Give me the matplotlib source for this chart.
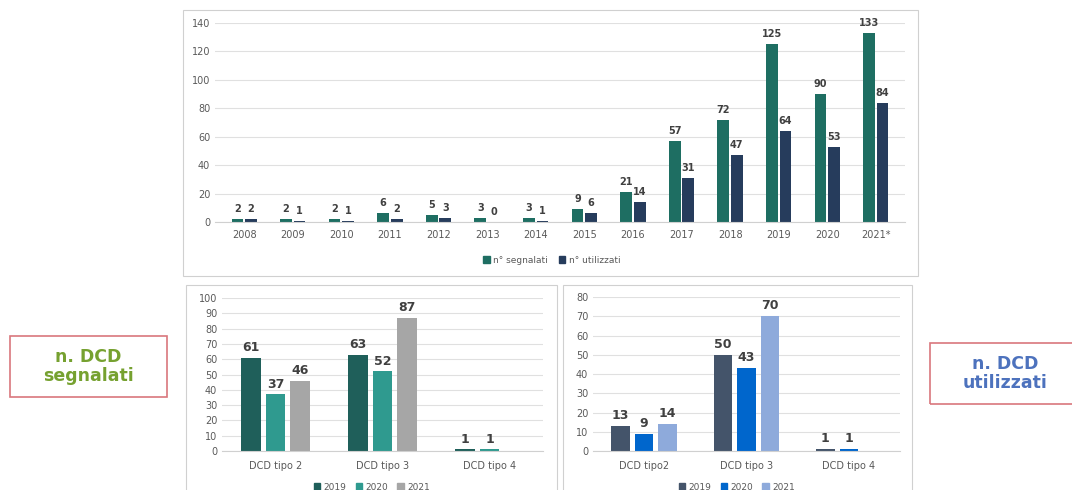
import numpy as np
import matplotlib.pyplot as plt
from matplotlib.patches import Rectangle

years = ["2008", "2009", "2010", "2011", "2012", "2013", "2014",
         "2015", "2016", "2017", "2018", "2019", "2020", "2021*"]
segnalati = [2, 2, 2, 6, 5, 3, 3, 9, 21, 57, 72, 125, 90, 133]
utilizzati = [2, 1, 1, 2, 3, 0, 1, 6, 14, 31, 47, 64, 53, 84]

tipi_segn = ["DCD tipo 2", "DCD tipo 3", "DCD tipo 4"]
segn_2019 = [61, 63, 1]
segn_2020 = [37, 52, 1]
segn_2021 = [46, 87, 0]

tipi_util = ["DCD tipo2", "DCD tipo 3", "DCD tipo 4"]
util_2019 = [13, 50, 1]
util_2020 = [9, 43, 1]
util_2021 = [14, 70, 0]

W, H = 1072, 490
fig = plt.figure(figsize=(W / 100, H / 100), dpi=100)
fig.patch.set_facecolor("white")

TICK = "#595959"
LBL = "#404040"
GRID = "#e0e0e0"


def px_axes(x0, y0, x1, y1):
    # pixel box (top-left origin) -> figure axes
    return fig.add_axes([x0 / W, 1 - y1 / H, (x1 - x0) / W, (y1 - y0) / H])


def panel(x0, y0, x1, y1, color="#d0d0d0", lw=0.8):
    fig.patches.append(Rectangle((x0 / W, 1 - y1 / H), (x1 - x0) / W, (y1 - y0) / H,
                                 transform=fig.transFigure, fill=False,
                                 edgecolor=color, linewidth=lw))


def style(ax, ymax, step):
    ax.set_ylim(0, ymax)
    ax.set_yticks(np.arange(0, ymax + 1, step))
    ax.yaxis.grid(True, color=GRID, linewidth=0.8)
    ax.set_axisbelow(True)
    for s in ["top", "right", "left"]:
        ax.spines[s].set_visible(False)
    ax.spines["bottom"].set_color("#d0d0d0")
    ax.tick_params(length=0, colors=TICK, labelsize=7)
    ax.set_facecolor("none")


def bars(ax, x, vals, width, color, fs):
    b = ax.bar(x, vals, width, color=color)
    for rect, v in zip(b, vals):
        if v == 0 and fs > 7:
            continue
        ax.text(rect.get_x() + rect.get_width() / 2, v + ax.get_ylim()[1] * 0.025,
                str(v), ha="center", va="bottom", fontsize=fs,
                fontweight="bold", color=LBL)


# top panel: yearly totals
panel(183, 10, 918, 276)
ax1 = px_axes(215, 23, 905, 222)
style(ax1, 140, 20)
x = np.arange(len(years))
bw = 0.24
bars(ax1, x - 0.14, segnalati, bw, "#1e6e62", 7)
bars(ax1, x + 0.14, utilizzati, bw, "#263c5c", 7)
ax1.set_xlim(-0.6, len(years) - 0.4)
ax1.set_xticks(x)
ax1.set_xticklabels(years)
ax1.tick_params(axis="x", pad=6)
h1 = [Rectangle((0, 0), 1, 1, color="#1e6e62"), Rectangle((0, 0), 1, 1, color="#263c5c")]
fig.legend(h1, ["n° segnalati", "n° utilizzati"], loc="center",
           bbox_to_anchor=(552 / W, 1 - 260 / H), ncol=2, frameon=False,
           fontsize=6.5, labelcolor=TICK, handlelength=0.7, handleheight=0.7,
           handletextpad=0.4, columnspacing=1.2)

# bottom-left panel: segnalati by type
panel(186, 285, 557, 492)
ax2 = px_axes(222, 298, 543, 451)
style(ax2, 100, 10)
x2 = np.arange(len(tipi_segn))
bw2 = 0.18
bars(ax2, x2 - 0.23, segn_2019, bw2, "#1f5f5a", 9)
bars(ax2, x2, segn_2020, bw2, "#2f9a8f", 9)
bars(ax2, x2 + 0.23, segn_2021, bw2, "#a6a6a6", 9)
ax2.set_xlim(-0.5, 2.5)
ax2.set_xticks(x2)
ax2.set_xticklabels(tipi_segn)
ax2.tick_params(axis="x", pad=7)
h2 = [Rectangle((0, 0), 1, 1, color=c) for c in ["#1f5f5a", "#2f9a8f", "#a6a6a6"]]
fig.legend(h2, ["2019", "2020", "2021"], loc="center",
           bbox_to_anchor=(372 / W, 1 - 487 / H), ncol=3, frameon=False,
           fontsize=6.5, labelcolor=TICK, handlelength=0.7, handleheight=0.7,
           handletextpad=0.4, columnspacing=1.0)

# bottom-right panel: utilizzati by type
panel(563, 285, 912, 492)
ax3 = px_axes(593, 297, 900, 451)
style(ax3, 80, 10)
x3 = np.arange(len(tipi_util))
bars(ax3, x3 - 0.23, util_2019, bw2, "#44546a", 9)
bars(ax3, x3, util_2020, bw2, "#0066cc", 9)
bars(ax3, x3 + 0.23, util_2021, bw2, "#8eaadb", 9)
ax3.set_xlim(-0.5, 2.5)
ax3.set_xticks(x3)
ax3.set_xticklabels(tipi_util)
ax3.tick_params(axis="x", pad=7)
h3 = [Rectangle((0, 0), 1, 1, color=c) for c in ["#44546a", "#0066cc", "#8eaadb"]]
fig.legend(h3, ["2019", "2020", "2021"], loc="center",
           bbox_to_anchor=(737 / W, 1 - 487 / H), ncol=3, frameon=False,
           fontsize=6.5, labelcolor=TICK, handlelength=0.7, handleheight=0.7,
           handletextpad=0.4, columnspacing=1.0)

# side captions
panel(10, 336, 167, 397, color="#d9777d", lw=1.2)
fig.text(88.5 / W, 1 - 366.5 / H, "n. DCD\nsegnalati", ha="center", va="center",
         fontsize=12.5, fontweight="bold", color="#76a130", linespacing=1.1)
panel(930, 343, 1085, 404, color="#d9777d", lw=1.2)
fig.text(1005 / W, 1 - 373.5 / H, "n. DCD\nutilizzati", ha="center", va="center",
         fontsize=12.5, fontweight="bold", color="#4d72bd", linespacing=1.1)

fig.savefig("out.png", dpi=100)
